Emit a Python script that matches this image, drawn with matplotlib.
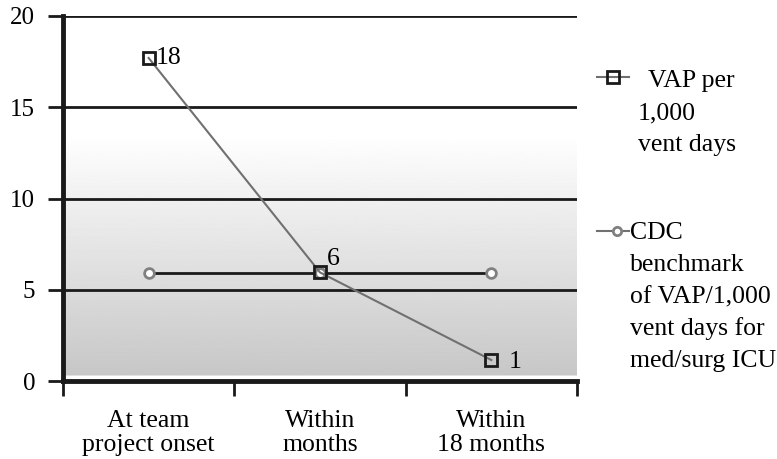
import matplotlib
matplotlib.use('Agg')
import matplotlib.pyplot as plt
from matplotlib.lines import Line2D
import numpy as np

plt.rcParams['font.family'] = ['Liberation Serif', 'DejaVu Serif']

categories = ['At team\nproject onset', 'Within\nmonths', 'Within\n18 months']
vap = [17.7, 5.95, 1.15]
vap_labels = ['18', '6', '1']
cdc = [5.9, 5.9, 5.9]
yticks = [0, 5, 10, 15, 20]
legend_vap = ['VAP per', '1,000', 'vent days']
legend_cdc = ['CDC', 'benchmark', 'of VAP/1,000', 'vent days for', 'med/surg ICU']

FS = 18.5

fig = plt.figure(figsize=(7.77, 4.59), dpi=100)
ax = fig.add_axes([63 / 777, 78 / 459, 514 / 777, 365 / 459])
x = np.arange(len(categories))

# grey gradient behind the plot
yy = np.linspace(0, 20, 400)
shade = np.where(yy > 13.5, 1.0, 0.78 + 0.22 * (yy - 0.3) / 13.2)
shade[yy < 0.3] = 1.0
ax.imshow(shade[::-1].reshape(-1, 1), cmap='gray', vmin=0, vmax=1,
          extent=[-0.5, 2.5, 0, 20], aspect='auto', zorder=0)

for v in yticks[1:]:
    ax.axhline(v, color='#1a1a1a', lw=2, zorder=1)

ax.plot(x, cdc, color='#1a1a1a', lw=2, marker='o', ms=7, mfc='white',
        mec='#808080', mew=2, zorder=3)
ax.plot(x, vap, color='#707070', lw=1.5, marker='s', ms=9, mfc='none',
        mec='#1a1a1a', mew=2, zorder=4)

offsets = [(0.04, 0.0), (0.04, 0.75), (0.1, -0.1)]
for xi, v, lab, (dx, dy) in zip(x, vap, vap_labels, offsets):
    ax.text(xi + dx, v + dy, lab, fontsize=FS, va='center', ha='left', zorder=5)

ax.set_xlim(-0.5, 2.5)
ax.set_ylim(0, 20)
ax.set_yticks(yticks)
ax.set_xticks(x)
ax.set_xticklabels(categories, fontsize=FS, linespacing=1.1)
ax.set_xticks([-0.5, 0.5, 1.5, 2.5], minor=True)
ax.tick_params(axis='x', which='major', length=0, pad=21)
ax.tick_params(axis='x', which='minor', length=11, width=2, color='#1a1a1a')
ax.tick_params(axis='y', length=11, width=2, color='#1a1a1a', labelsize=18, pad=9)
for s in ['top', 'right']:
    ax.spines[s].set_visible(False)
ax.spines['left'].set_linewidth(3.5)
ax.spines['bottom'].set_linewidth(3.5)
ax.spines['left'].set_color('#1a1a1a')
ax.spines['bottom'].set_color('#1a1a1a')

# legend
def px(xp, yp):
    return xp / 777, 1 - yp / 459

x0, y0 = px(597, 77)
x1, _ = px(629, 77)
fig.add_artist(Line2D([x0, x1], [y0, y0], color='#707070', lw=1.5))
fig.add_artist(Line2D([(x0 + x1) / 2], [y0], marker='s', ms=8, mfc='none',
                      mec='#1a1a1a', mew=2))
for i, t in enumerate(legend_vap):
    tx, ty = px(648 if i == 0 else 638, 81 + 32 * i)
    fig.text(tx, ty, t, fontsize=FS, va='center', ha='left')

x0, y0 = px(597, 231)
fig.add_artist(Line2D([x0, x1], [y0, y0], color='#707070', lw=1.5))
fig.add_artist(Line2D([(x0 + x1) / 2 + 4 / 777], [y0], marker='o', ms=6,
                      mfc='white', mec='#808080', mew=2))
for i, t in enumerate(legend_cdc):
    tx, ty = px(630, 233 + 32 * i)
    fig.text(tx, ty, t, fontsize=FS, va='center', ha='left')

fig.savefig('out.png', dpi=100)
